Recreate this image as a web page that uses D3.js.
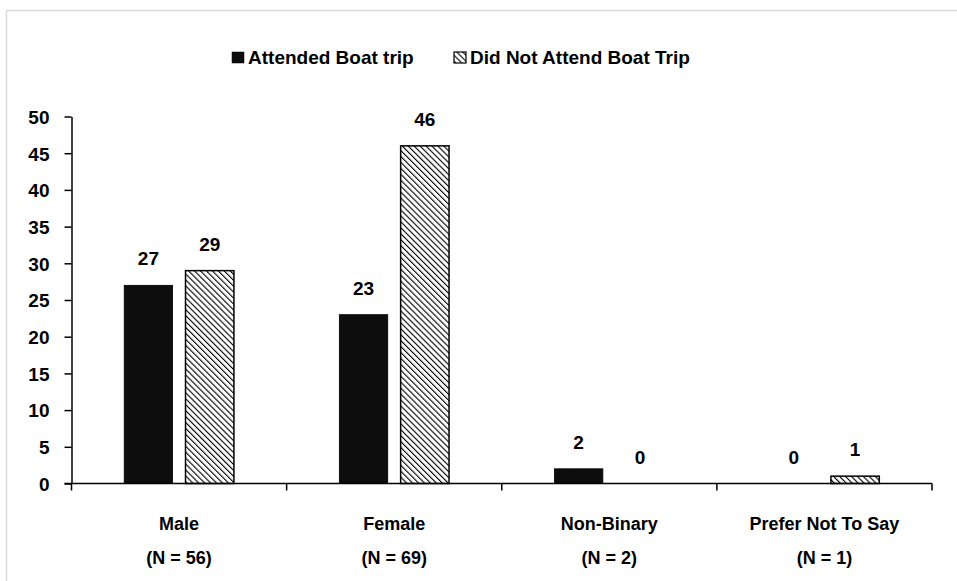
<!DOCTYPE html>
<html>
<head>
<meta charset="utf-8">
<script src="https://cdn.jsdelivr.net/npm/d3@7"></script>
<style>
  body { margin: 0; background: #fff; }
  text { font-family: "Liberation Sans", Arial, sans-serif; font-weight: bold; fill: #000; }
</style>
</head>
<body>
<div id="chart"></div>
<script>
// chart data
var categories = ["Male", "Female", "Non-Binary", "Prefer Not To Say"];
var counts = ["(N = 56)", "(N = 69)", "(N = 2)", "(N = 1)"];
var seriesNames = ["Attended Boat trip", "Did Not Attend Boat Trip"];
var attended = [27, 23, 2, 0];
var notAttended = [29, 46, 0, 1];
var yTicks = [0, 5, 10, 15, 20, 25, 30, 35, 40, 45, 50];

var svgWidth = 957;
var svgHeight = 581;

var svg = d3.select("#chart").append("svg")
    .attr("width", svgWidth)
    .attr("height", svgHeight);

// hatch pattern for the second series
var hs = 4.2;
var defs = svg.append("defs");
var pat = defs.append("pattern")
    .attr("id", "hatch")
    .attr("patternUnits", "userSpaceOnUse")
    .attr("width", hs)
    .attr("height", hs)
    .attr("patternTransform", "rotate(-45)");
pat.append("rect").attr("width", hs).attr("height", hs).attr("fill", "#fff");
pat.append("line")
    .attr("x1", 0).attr("y1", 0).attr("x2", 0).attr("y2", hs)
    .attr("stroke", "#000").attr("stroke-width", 2.2);

// outer chart border
svg.append("rect")
    .attr("x", 6.5).attr("y", 10.5)
    .attr("width", 960).attr("height", 600)
    .attr("fill", "none")
    .attr("stroke", "#d9d9d9")
    .attr("stroke-width", 1.5);

var plotLeft = 71.5, plotRight = 932, plotTop = 116.5, plotBottom = 483.5;

var x0 = d3.scaleBand().domain(categories).range([plotLeft, plotRight]);
var bw = x0.bandwidth();
var y = d3.scaleLinear().domain([0, 50]).range([plotBottom, plotTop]);

// bar geometry within a band
var barW = bw * 0.225;
var gap = bw * 0.06;
var offsets = [bw / 2 - gap / 2 - barW, bw / 2 + gap / 2];

var series = [attended, notAttended];
var fills = ["#0d0d0d", "url(#hatch)"];

series.forEach(function(vals, si) {
    var g = svg.append("g");
    g.selectAll("rect")
        .data(vals)
        .enter()
        .append("rect")
        .attr("x", function(d, i) { return x0(categories[i]) + offsets[si]; })
        .attr("y", function(d) { return y(d); })
        .attr("width", barW)
        .attr("height", function(d) { return plotBottom - y(d); })
        .attr("fill", fills[si])
        .attr("stroke", function(d) { return d > 0 ? "#000" : "none"; })
        .attr("stroke-width", si == 1 ? 1.5 : 0.8);

    g.selectAll("text")
        .data(vals)
        .enter()
        .append("text")
        .attr("x", function(d, i) { return x0(categories[i]) + offsets[si] + barW / 2; })
        .attr("y", function(d) { return y(d) - 20; })
        .attr("text-anchor", "middle")
        .attr("font-size", "19px")
        .text(function(d) { return d; });
});

// y axis
var yAxis = svg.append("g")
    .attr("transform", "translate(" + plotLeft + ",0)")
    .call(d3.axisLeft(y).tickValues(yTicks).tickSize(7).tickSizeOuter(0).tickPadding(15));
yAxis.selectAll("text").attr("font-size", "19px").attr("font-family", null).attr("dy", "0.36em");
yAxis.selectAll("line, path").attr("stroke", "#000").attr("stroke-width", 1.5);

// x axis with ticks at band boundaries
var xAxis = svg.append("g")
    .attr("transform", "translate(0," + plotBottom + ")");
xAxis.append("line")
    .attr("x1", plotLeft - 7).attr("x2", plotRight)
    .attr("y1", 0).attr("y2", 0)
    .attr("stroke", "#000").attr("stroke-width", 1.5);
var bounds = categories.map(function(c) { return x0(c); }).concat([plotRight]);
xAxis.selectAll(".xt")
    .data(bounds)
    .enter()
    .append("line")
    .attr("x1", function(d) { return d; }).attr("x2", function(d) { return d; })
    .attr("y1", 0).attr("y2", 7)
    .attr("stroke", "#000").attr("stroke-width", 1.5);

// category labels, two lines
svg.selectAll(".cat")
    .data(categories)
    .enter()
    .append("text")
    .attr("x", function(d) { return x0(d) + bw / 2; })
    .attr("y", 530)
    .attr("text-anchor", "middle")
    .attr("font-size", "18px")
    .text(function(d) { return d; });
svg.selectAll(".cnt")
    .data(counts)
    .enter()
    .append("text")
    .attr("x", function(d, i) { return x0(categories[i]) + bw / 2; })
    .attr("y", 564)
    .attr("text-anchor", "middle")
    .attr("font-size", "18px")
    .text(function(d) { return d; });

// legend
var legend = svg.append("g");
var legendX = [232, 454];
seriesNames.forEach(function(name, i) {
    legend.append("rect")
        .attr("x", legendX[i]).attr("y", 52)
        .attr("width", 12).attr("height", 11)
        .attr("fill", fills[i])
        .attr("stroke", "#000").attr("stroke-width", i == 1 ? 1.2 : 0.5);
    legend.append("text")
        .attr("x", legendX[i] + 16).attr("y", 64)
        .attr("font-size", "19px")
        .text(name);
});
</script>
</body>
</html>
